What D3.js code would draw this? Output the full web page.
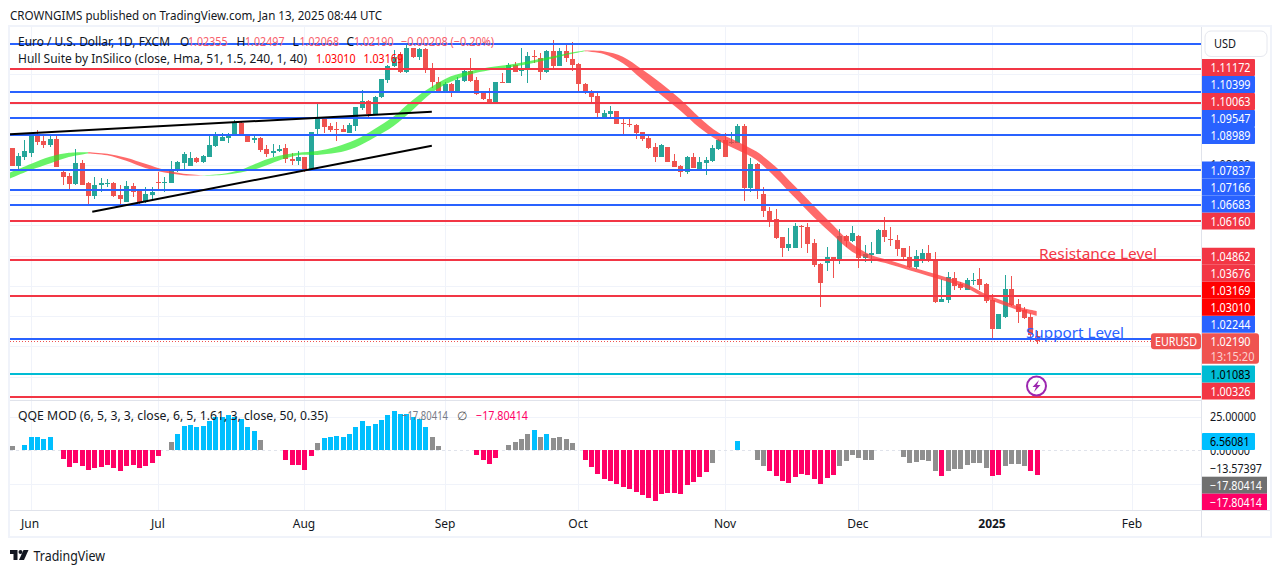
<!DOCTYPE html>
<html><head><meta charset="utf-8">
<script src="https://cdnjs.cloudflare.com/ajax/libs/d3/7.9.0/d3.min.js"></script>
<style>html,body{margin:0;padding:0;background:#fff;overflow:hidden}svg{display:block}</style>
</head><body><svg id="c" width="1281" height="573"></svg>
<script>
const opens=[1.0857,1.0798,1.0826,1.0841,1.0902,1.0879,1.0866,1.0885,1.0775,1.0763,1.0737,1.0805,1.0739,1.0698,1.0733,1.0739,1.0741,1.0701,1.0679,1.0730,1.0715,1.0679,1.0702,1.0744,1.0739,1.0739,1.0783,1.0808,1.0797,1.0822,1.0811,1.0827,1.0864,1.0880,1.0890,1.0897,1.0940,1.0899,1.0884,1.0889,1.0853,1.0838,1.0845,1.0855,1.0820,1.0812,1.0825,1.0783,1.0919,1.0951,1.0930,1.0918,1.0919,1.0907,1.0930,1.0987,1.1012,1.0969,1.1024,1.1081,1.1127,1.1166,1.1108,1.1186,1.1158,1.1183,1.1120,1.1075,1.1042,1.1068,1.1037,1.1078,1.1111,1.1081,1.1037,1.1018,1.1007,1.1073,1.1072,1.1131,1.1110,1.1114,1.1161,1.1155,1.1108,1.1177,1.1128,1.1177,1.1150,1.1134,1.1068,1.1045,1.1028,1.0958,1.0970,1.0978,1.0938,1.0935,1.0932,1.0909,1.0889,1.0860,1.0826,1.0859,1.0813,1.0797,1.0778,1.0826,1.0783,1.0808,1.0814,1.0853,1.0883,1.0873,1.0873,1.0929,1.0725,1.0803,1.0704,1.0648,1.0620,1.0562,1.0526,1.0526,1.0599,1.0595,1.0541,1.0472,1.0477,1.0494,1.0488,1.0565,1.0548,1.0565,1.0493,1.0503,1.0507,1.0585,1.0555,1.0552,1.0525,1.0494,1.0464,1.0482,1.0508,1.0486,1.0348,1.0355,1.0425,1.0406,1.0387,1.0417,1.0423,1.0406,1.0353,1.0259,1.0297,1.0389,1.0339,1.0320,1.0296,1.02355];
const closes=[1.0798,1.0830,1.0846,1.0902,1.0877,1.0866,1.0885,1.0794,1.0761,1.0737,1.0805,1.0735,1.0698,1.0734,1.0739,1.0741,1.0698,1.0687,1.0730,1.0712,1.0679,1.0704,1.0711,1.0741,1.0744,1.0786,1.0810,1.0836,1.0822,1.0810,1.0830,1.0866,1.0902,1.0892,1.0901,1.0940,1.0898,1.0877,1.0889,1.0849,1.0836,1.0846,1.0853,1.0819,1.0813,1.0825,1.0783,1.0908,1.0951,1.0927,1.0916,1.0915,1.0909,1.0932,1.0992,1.1012,1.0969,1.1025,1.1083,1.1128,1.1158,1.1108,1.1186,1.1158,1.1183,1.1120,1.1075,1.1042,1.1068,1.1037,1.1081,1.1111,1.1078,1.1034,1.1017,1.1007,1.1074,1.1071,1.1131,1.1108,1.1116,1.1160,1.1158,1.1108,1.1178,1.1128,1.1177,1.1155,1.1131,1.1067,1.1040,1.1026,1.0971,1.0971,1.0978,1.0935,1.0935,1.0932,1.0907,1.0886,1.0856,1.0826,1.0866,1.0811,1.0794,1.0778,1.0826,1.0791,1.0810,1.0815,1.0856,1.0883,1.0827,1.0877,1.0929,1.0725,1.0803,1.0716,1.0646,1.0616,1.0558,1.0526,1.0537,1.0598,1.0597,1.0540,1.0469,1.0411,1.0494,1.0489,1.0565,1.0550,1.0574,1.0493,1.0505,1.0508,1.0585,1.0563,1.0553,1.0523,1.0494,1.0464,1.0499,1.0508,1.0486,1.0348,1.0357,1.0428,1.0398,1.0394,1.0420,1.0420,1.0403,1.0351,1.0259,1.0307,1.0389,1.0337,1.0315,1.0294,1.0238,1.0219];
const highs=[1.0857,1.0838,1.0883,1.0905,1.0916,1.0894,1.0902,1.0902,1.0783,1.0772,1.0852,1.0816,1.0745,1.0761,1.0758,1.0752,1.0744,1.0732,1.0747,1.0741,1.0717,1.0726,1.0726,1.0778,1.0761,1.0814,1.0812,1.0844,1.0844,1.0827,1.0833,1.0899,1.0910,1.0907,1.0907,1.0949,1.0943,1.0901,1.0899,1.0891,1.0866,1.0868,1.0866,1.0868,1.0838,1.0847,1.0827,1.0910,1.1007,1.0960,1.0938,1.0943,1.0932,1.0938,1.0993,1.1048,1.1015,1.1027,1.1085,1.1131,1.1180,1.1175,1.1197,1.1188,1.1186,1.1186,1.1136,1.1092,1.1075,1.1070,1.1092,1.1116,1.1153,1.1090,1.1045,1.1053,1.1074,1.1103,1.1136,1.1142,1.1186,1.1175,1.1180,1.1169,1.1180,1.1213,1.1186,1.1200,1.1205,1.1136,1.1070,1.1048,1.1037,1.0982,1.0995,1.0978,1.0954,1.0954,1.0934,1.0910,1.0896,1.0874,1.0868,1.0860,1.0836,1.0800,1.0830,1.0838,1.0827,1.0827,1.0866,1.0885,1.0905,1.0910,1.0935,1.0934,1.0822,1.0805,1.0726,1.0660,1.0654,1.0563,1.0591,1.0609,1.0601,1.0607,1.0554,1.0475,1.0528,1.0497,1.0587,1.0568,1.0598,1.0568,1.0535,1.0545,1.0587,1.0627,1.0594,1.0567,1.0525,1.0532,1.0519,1.0522,1.0535,1.0511,1.0422,1.0445,1.0445,1.0414,1.0425,1.0442,1.0458,1.0409,1.0373,1.0307,1.0436,1.0433,1.0356,1.0329,1.0309,1.02497];
const lows=[1.0798,1.0783,1.0816,1.0827,1.0866,1.0855,1.0860,1.0794,1.0734,1.0720,1.0734,1.0733,1.0669,1.0687,1.0712,1.0726,1.0695,1.0671,1.0679,1.0695,1.0665,1.0675,1.0684,1.0720,1.0712,1.0739,1.0778,1.0781,1.0797,1.0805,1.0808,1.0825,1.0860,1.0878,1.0871,1.0896,1.0896,1.0877,1.0874,1.0844,1.0825,1.0827,1.0843,1.0805,1.0800,1.0800,1.0778,1.0781,1.0896,1.0905,1.0910,1.0880,1.0908,1.0905,1.0913,1.0982,1.0951,1.0966,1.1021,1.1072,1.1123,1.1105,1.1103,1.1153,1.1147,1.1105,1.1053,1.1037,1.1039,1.1026,1.1037,1.1075,1.1075,1.1031,1.1015,1.1004,1.1004,1.1070,1.1072,1.1106,1.1095,1.1070,1.1136,1.1081,1.1103,1.1122,1.1127,1.1142,1.1112,1.1045,1.1034,1.1007,1.0951,1.0954,1.0958,1.0935,1.0899,1.0924,1.0885,1.0880,1.0853,1.0811,1.0825,1.0810,1.0793,1.0761,1.0771,1.0789,1.0781,1.0768,1.0810,1.0849,1.0826,1.0869,1.0871,1.0682,1.0712,1.0687,1.0629,1.0596,1.0555,1.0497,1.0516,1.0525,1.0524,1.0508,1.0461,1.0331,1.0450,1.0427,1.0472,1.0530,1.0546,1.0460,1.0480,1.0475,1.0504,1.0546,1.0532,1.0499,1.0488,1.0459,1.0456,1.0477,1.0480,1.0345,1.0348,1.0345,1.0387,1.0387,1.0385,1.0403,1.0387,1.0345,1.0223,1.0258,1.0295,1.0334,1.0276,1.0291,1.0213,1.02068];

const hullBars=[-1,3,6,9,12,15,18,21,24,27,30,33,36,39,42,45,48,51,54,57,60,63,66,69,72,75,78,81,84,87,90,93,96,99,102,105,108,111,114,117,120,123,126,129,132,135,138,141,144,147,150,153,156,159,161];
const hullUpper=[1.0768,1.0803,1.0827,1.0840,1.0842,1.0837,1.0824,1.0804,1.0784,1.0771,1.0766,1.0770,1.0784,1.0810,1.0830,1.0840,1.0846,1.0860,1.0883,1.0919,1.0960,1.1015,1.1059,1.1093,1.1110,1.1123,1.1131,1.1142,1.1155,1.1168,1.1178,1.1176,1.1158,1.1116,1.1070,1.1018,1.0958,1.0907,1.0877,1.0844,1.0794,1.0730,1.0665,1.0601,1.0539,1.0502,1.0484,1.0464,1.0446,1.0427,1.0406,1.0372,1.0348,1.0326,1.03169];
const hullLower=[1.0748,1.0783,1.0805,1.0826,1.0838,1.0832,1.0814,1.0790,1.0775,1.0766,1.0765,1.0767,1.0775,1.0791,1.0815,1.0832,1.0833,1.0840,1.0858,1.0891,1.0929,1.0982,1.1039,1.1075,1.1099,1.1113,1.1122,1.1133,1.1147,1.1163,1.1176,1.1167,1.1136,1.1083,1.1031,1.0980,1.0924,1.0880,1.0849,1.0816,1.0758,1.0692,1.0627,1.0568,1.0513,1.0488,1.0471,1.0452,1.0433,1.0414,1.0392,1.0359,1.0335,1.0313,1.03010];
const hullTurns=[-1,12,30,90,161];
const hullTurnKinds=["up","down","up","down"];

const qqe=[3.1,null,3.8,9.6,9.6,8.2,9.6,null,-6.3,-12.0,-9.1,-11.3,-14.2,-12.7,-12.0,-10.6,-12.7,-14.9,-11.3,-10.6,-12.7,-11.3,-9.1,-4.1,null,6.0,11.8,17.6,18.3,16.8,17.6,21.2,24.3,23.8,25.5,24.3,22.6,16.8,13.9,7.5,null,null,null,-7.0,-10.6,-10.6,-14.2,-4.1,5.3,8.9,9.6,10.3,9.6,11.8,16.8,21.2,17.6,19.0,21.9,25.5,28.4,26.2,26.2,23.8,22.6,16.8,9.6,3.1,null,null,null,null,null,-3.4,-7.0,-9.9,-5.5,null,3.8,6.0,8.2,11.8,14.7,9.6,11.8,8.9,9.6,8.2,5.3,null,-7.0,-12.0,-17.1,-20.7,-22.1,-24.3,-26.5,-27.9,-30.1,-32.2,-34.4,-36.6,-31.5,-30.8,-30.8,-31.5,-25.0,-22.8,-19.2,-15.6,-9.1,null,null,null,6.7,null,null,-7.0,-11.3,-14.9,-18.5,-22.1,-23.6,-19.2,-17.1,-17.8,-20.7,-24.3,-20.0,-17.8,-11.3,-7.7,-3.4,-5.5,-7.0,-7.0,null,null,null,null,-4.8,-9.1,-8.4,-7.0,-7.7,-14.9,-18.5,-14.9,-13.5,-13.5,-10.6,-9.1,-9.1,-12.7,-18.5,-17.8,-11.3,-9.9,-9.9,-11.3,-14.9,-17.8];
const qqeNeutralBars=[0,25,39,48,66,67,78,79,80,81,83,85,86,87,88,110,117,118,130,131,132,133,134,135,140,141,142,143,144,145,147,148,149,150,151,152,153,156,157,158,159];

const blueLevels=[1.12,1.10399,1.09547,1.08989,1.07837,1.07166,1.06683,1.02244];
const redLevels=[1.11172,1.10063,1.0616,1.04862,1.03676,1.00326];
const cyanLevels=[1.01083];
const priceGrid=[1.11,1.10,1.09,1.08,1.07,1.06,1.05,1.04,1.03,1.02,1.01];
const priceTickShown=[1.08];
const lastClose=1.0219;
const hullLast=[1.03169,1.0301];
const trendA=[[-0.25,1.09014],[66,1.09761]];
const trendB=[[12.67,1.06454],[66,1.08637]];
const monthBars=[3,23,46,68,89,112,133,154,176];
const monthNames=["Jun","Jul","Aug","Sep","Oct","Nov","Dec","2025","Feb"];

const BLUE="#2962ff",RED="#f23645",CYAN="#00bcd4",UP="#26a69a",DOWN="#ef5350",INK="#131722";
const FONT="'Noto Sans',sans-serif";
const svg=d3.select("#c");
const x=d3.scaleLinear().domain([0,161]).range([11.6,1036.7]);
const y=d3.scaleLinear().domain([1.00326,1.11172]).range([397,69]);
const yq=d3.scaleLinear().domain([0,25]).range([450.3,415.65]);
const L=10,R=1201.5,TOP=27,PANE=399.5,QB=510,BOT=537;

function txt(g,tx,ty,s,o={}){
  const t=g.append("text").attr("x",tx).attr("y",ty).attr("dominant-baseline","central")
   .attr("font-family",FONT).attr("font-size",o.size||12).attr("fill",o.fill||INK).text(s);
  if(o.anchor)t.attr("text-anchor",o.anchor);
  if(o.weight)t.attr("font-weight",o.weight);
  if(o.len)t.attr("textLength",o.len).attr("lengthAdjust","spacingAndGlyphs");
  return t;
}
function hline(g,v,col,w){g.append("line").attr("x1",L).attr("x2",R).attr("y1",Math.round(y(v))).attr("y2",Math.round(y(v))).attr("stroke",col).attr("stroke-width",w);}

// Frame and grid
const grid=svg.append("g").attr("shape-rendering","crispEdges");
grid.selectAll(".gv").data(monthBars).join("line").attr("x1",d=>Math.round(x(d))+.5).attr("x2",d=>Math.round(x(d))+.5).attr("y1",TOP).attr("y2",QB).attr("stroke","#f0f3fa");
grid.selectAll(".gh").data(priceGrid).join("line").attr("x1",L).attr("x2",R).attr("y1",d=>Math.round(y(d))+.5).attr("y2",d=>Math.round(y(d))+.5).attr("stroke","#f0f3fa");
[24.2,-24.2].forEach(v=>grid.append("line").attr("x1",L).attr("x2",R).attr("y1",Math.round(yq(v))+.5).attr("y2",Math.round(yq(v))+.5).attr("stroke","#f0f3fa"));
grid.append("line").attr("x1",L).attr("x2",R).attr("y1",450.5).attr("y2",450.5).attr("stroke","#e0e3eb").attr("stroke-dasharray","3 3");
// Candles
const bars=d3.range(opens.length);
const cg=svg.append("g").attr("shape-rendering","crispEdges");
const col=i=>closes[i]>=opens[i]?UP:DOWN;
cg.selectAll(".w").data(bars).join("rect").attr("x",i=>Math.round(x(i))).attr("width",1)
  .attr("y",i=>y(highs[i])).attr("height",i=>Math.max(1,y(lows[i])-y(highs[i]))).attr("fill",col);
cg.selectAll(".b").data(bars).join("rect").attr("x",i=>Math.round(x(i))-2).attr("width",5)
  .attr("y",i=>y(Math.max(opens[i],closes[i]))).attr("height",i=>Math.max(1,Math.abs(y(opens[i])-y(closes[i])))).attr("fill",col);
// Clip for band
svg.append("clipPath").attr("id","pane").append("rect").attr("x",L).attr("y",TOP).attr("width",R-L).attr("height",PANE-TOP);
// Hull band
const hull=hullBars.map((b,i)=>({b,u:hullUpper[i],l:hullLower[i]}));
const band=d3.area().x(d=>x(d.b)).y0(d=>y(d.l)).y1(d=>y(d.u)).curve(d3.curveCatmullRom);
const hg=svg.append("g").attr("clip-path","url(#pane)");
hullTurnKinds.forEach((k,i)=>{
  const seg=hull.filter(d=>d.b>=hullTurns[i]&&d.b<=hullTurns[i+1]);
  hg.append("path").attr("d",band(seg)).attr("fill",k==="up"?"#22ee22":"#ff3b3b").attr("fill-opacity",k==="up"?.68:.76);
});
// Levels and trend lines
const lv=svg.append("g").attr("shape-rendering","crispEdges");
blueLevels.forEach(v=>hline(lv,v,BLUE,2));
redLevels.forEach(v=>hline(lv,v,RED,2));
cyanLevels.forEach(v=>hline(lv,v,CYAN,2));
const tl=d3.line().x(d=>x(d[0])).y(d=>y(d[1]));
[trendA,trendB].forEach(t=>svg.append("path").attr("d",tl(t)).attr("fill","none").attr("stroke","#000").attr("stroke-width",2));
svg.append("line").attr("x1",L).attr("x2",1151).attr("y1",Math.round(y(lastClose))+.5).attr("y2",Math.round(y(lastClose))+.5)
  .attr("stroke",DOWN).attr("stroke-dasharray","1 2").attr("shape-rendering","crispEdges");
// Annotations
const tg=svg.append("g");
txt(tg,1039,253,"Resistance Level",{fill:RED,size:15,len:118});
txt(tg,1026,332,"Support Level",{fill:BLUE,size:15,len:98});
tg.append("circle").attr("cx",1036.5).attr("cy",386).attr("r",9.5).attr("fill","#fff").attr("stroke","#9c27b0").attr("stroke-width",2);
tg.append("path").attr("d","M1039 380 L1032.5 387 L1036 387 L1034 392 L1040.5 385 L1037 385 Z").attr("fill","#9c27b0");
// QQE
const qc=new Set(qqeNeutralBars);
const qg=svg.append("g").attr("shape-rendering","crispEdges");
qg.selectAll("rect").data(bars.filter(i=>qqe[i]!==null)).join("rect")
  .attr("x",i=>Math.round(x(i))-2).attr("width",5)
  .attr("y",i=>Math.min(yq(qqe[i]),yq(0))).attr("height",i=>Math.abs(yq(qqe[i])-yq(0)))
  .attr("fill",i=>qc.has(i)?"#8f8f8f":qqe[i]>0?"#00bfff":"#ff0066");
// Pane borders
const fr=svg.append("g").attr("shape-rendering","crispEdges");
fr.append("rect").attr("x",L-1).attr("y",TOP-1).attr("width",1262).attr("height",BOT-TOP+1).attr("fill","none").attr("stroke","#f0f3fa").attr("stroke-width",2);
[[L,R,PANE,PANE],[L,1270,QB,QB]].forEach(a=>fr.append("line").attr("x1",a[0]).attr("x2",a[1]).attr("y1",a[2]+.5).attr("y2",a[3]+.5).attr("stroke","#e0e3eb"));
fr.append("line").attr("x1",R).attr("x2",R).attr("y1",TOP).attr("y2",BOT).attr("stroke","#e0e3eb");
// Header and legends
txt(svg,10,15,"CROWNGIMS published on TradingView.com, Jan 13, 2025 08:44 UTC",{len:372});
const pv="#f7606c";
txt(svg,18,41.7,"Euro / U.S. Dollar, 1D, FXCM",{len:152});
[["O",180,"1.02355",188],["H",236.5,"1.02497",245],["L",292.5,"1.02068",299.5],["C",346.5,"1.02190",354]].forEach(r=>{
  txt(svg,r[1],41.7,r[0]);txt(svg,r[3],41.7,r[2],{fill:pv,len:39.5});});
txt(svg,401,41.7,"\u22120.00208 (\u22120.20%)",{fill:pv,len:93});
txt(svg,18,58.7,"Hull Suite by InSilico (close, Hma, 51, 1.5, 240, 1, 40)",{len:289});
txt(svg,316,58.7,"1.03010",{fill:"#ff0000",len:39.5});
txt(svg,363.5,58.7,"1.03169",{fill:"#ff0000",len:39.5});
txt(svg,18,415,"QQE MOD (6, 5, 3, 3, close, 6, 5, 1.61, 3, close, 50, 0.35)",{len:310});
txt(svg,402,415,"\u221217.80414",{fill:"#787b86",len:46});
txt(svg,457,415,"\u2205",{fill:"#555"});
txt(svg,476,415,"\u221217.80414",{fill:"#ff0066",len:52});
// Time axis
monthBars.forEach((b,i)=>txt(svg,Math.round(x(b))-(i===0?1:0),523.5,monthNames[i],{anchor:"middle",weight:monthNames[i]==="2025"?700:null}));
// Price axis
svg.append("rect").attr("x",1205).attr("y",31).attr("width",62).attr("height",25.5).attr("rx",6).attr("fill","#fff").attr("stroke","#e6e8ef");
txt(svg,1214,43.5,"USD",{len:22});
priceTickShown.forEach(v=>txt(svg,1210.5,y(v),d3.format(".5f")(v),{len:40}));
const labels=[...blueLevels.filter(v=>v<1.11).map(v=>({v,c:BLUE})),...redLevels.map(v=>({v,c:RED})),...cyanLevels.map(v=>({v,c:CYAN,dark:true})),...hullLast.map(v=>({v,c:"#ff0000"})),{v:lastClose,c:DOWN,last:true}].sort((a,b)=>a.v-b.v);
let prev=Infinity;
labels.forEach(d=>{ d.cy=Math.min(y(d.v)+.5,prev-17,391); prev=d.cy; });
labels.forEach(d=>{
  if(d.last){
    svg.append("path").attr("d",`M1202 ${d.cy-8} h54 a3 3 0 0 1 3 3 v24.5 a3 3 0 0 1 -3 3 h-54 z`).attr("fill",d.c);
    txt(svg,1210.5,d.cy,d3.format(".5f")(d.v),{fill:"#fff",len:40});
    txt(svg,1210.5,d.cy+15.5,"13:15:20",{fill:"#fbd0cf",len:44});
  } else {
    svg.append("path").attr("d",`M1202 ${d.cy-8.5} h52 a1 1 0 0 1 1 1 v15 a1 1 0 0 1 -1 1 h-52 z`).attr("fill",d.c);
    txt(svg,1210.5,d.cy,d3.format(".5f")(d.v),{fill:d.dark?"#000":"#fff",len:40});
  }
});
svg.append("rect").attr("x",1151).attr("y",333.3).attr("width",50).attr("height",16).attr("rx",3).attr("fill",DOWN);
txt(svg,1155,341.3,"EURUSD",{fill:"#fff",len:42});
// QQE axis
txt(svg,1210,416.7,d3.format(".5f")(25),{len:46});
txt(svg,1210,450.5,d3.format(".5f")(0),{len:40});
svg.append("rect").attr("x",1202).attr("y",433).attr("width",53).attr("height",17).attr("rx",1).attr("fill","#00bfff");
txt(svg,1210,441.7,"6.56081",{fill:"#000",len:39.5});
txt(svg,1210,468.7,"\u221213.57397",{len:52});
svg.append("rect").attr("x",1202).attr("y",476.7).attr("width",65).attr("height",17).attr("fill","#707070");
txt(svg,1210,485.5,"\u221217.80414",{fill:"#fff",len:52});
svg.append("rect").attr("x",1202).attr("y",493.7).attr("width",65).attr("height",16.3).attr("fill","#ff0066");
txt(svg,1210,502.2,"\u221217.80414",{fill:"#fff",len:52});
// Footer mark
const fg=svg.append("g").attr("fill",INK);
fg.append("path").attr("d","M10 550 H17.5 V560 H13.5 V554 H10 Z");
fg.append("circle").attr("cx",20.5).attr("cy",552).attr("r",2);
fg.append("path").attr("d","M23.5 550 H28.5 L24 560 H19 Z");
txt(svg,33.5,555.5,"TradingView",{size:14,len:71.5});
</script></body></html>
